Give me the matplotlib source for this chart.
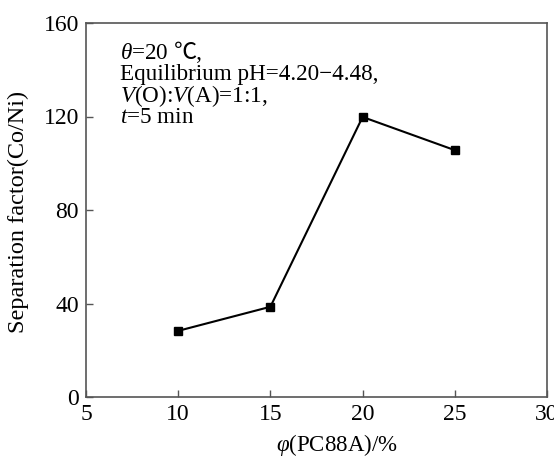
import matplotlib.pyplot as plt
from matplotlib import transforms

# data
pc88a = [10, 15, 20, 25]
sep_factor = [28.3, 38.6, 119.8, 105.6]

xticks = [5, 10, 15, 20, 25, 30]
yticks = [0, 40, 80, 120, 160]

plt.rcParams['font.family'] = ['Liberation Serif', 'DejaVu Serif']
plt.rcParams['mathtext.fontset'] = 'custom'
plt.rcParams['mathtext.rm'] = 'Liberation Serif'
plt.rcParams['mathtext.it'] = 'Liberation Serif:italic'

W, H = 554, 457
fig = plt.figure(figsize=(W/100, H/100), dpi=100)
ax = fig.add_axes([86/W, 60/H, 461/W, 374/H])

ax.plot(pc88a, sep_factor, color='black', lw=1.5, marker='s', ms=5.5)

ax.set_xlim(5, 30)
ax.set_ylim(0, 160)
ax.set_xticks(xticks)
ax.set_yticks(yticks)
ax.tick_params(direction='in', length=5, width=1, color='#555555', labelsize=17, pad=5)
for s in ax.spines.values():
    s.set_color('#555555')
    s.set_linewidth(1.2)

fig.text(337/W, 1 - 445/H, r'$\mathit{\varphi}$(PC88A)/%', fontsize=16.5,
         ha='center', va='center')
fig.text(18/W, 1 - 212/H, 'Separation factor(Co/Ni)', fontsize=17.5,
         rotation=90, ha='center', va='center')

# condition note, one text per line (baselines in pixels from top)
fs = 16.7
x0 = 120/W
t1 = fig.text(x0, 1 - 59/H, r'$\mathit{\theta}$=20', fontsize=fs, va='baseline')
fig.canvas.draw()
w = t1.get_window_extent().width + 5
fig.text(x0, 1 - 59/H, '\u2103,', fontsize=fs, va='baseline',
         family=['Liberation Serif', 'Noto Sans CJK SC'],
         transform=transforms.offset_copy(fig.transFigure, fig=fig, x=w, y=0, units='dots'))
fig.text(x0, 1 - 80/H, 'Equilibrium pH=4.20\u22124.48,', fontsize=fs, va='baseline')
fig.text(x0, 1 - 102/H, r'$\mathit{V}$(O):$\mathit{V}$(A)=1:1,', fontsize=fs, va='baseline')
fig.text(x0, 1 - 123/H, r'$\mathit{t}$=5 min', fontsize=fs, va='baseline')

fig.savefig('out.png', dpi=100)
